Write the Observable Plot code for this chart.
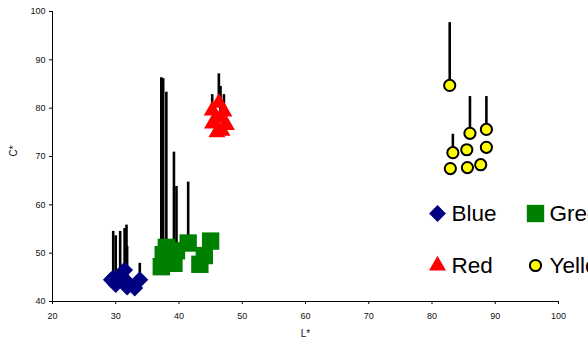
<!DOCTYPE html>
<html><head><meta charset="utf-8">
<script src="https://cdn.jsdelivr.net/npm/d3@7"></script>
<script src="https://cdn.jsdelivr.net/npm/@observablehq/plot@0.6"></script>
<style>html,body{margin:0;padding:0;background:#fff;overflow:hidden}</style>
</head><body><div id="chart"></div>
<script>
// ---- data ----
const seriesNames = ["Blue", "Green", "Red", "Yellow"];
const xTicks = [20, 30, 40, 50, 60, 70, 80, 90, 100];
const yTicks = [40, 50, 60, 70, 80, 90, 100];
const xTitle = "L*";
const yTitle = "C*";

const blueL   = [29.6, 30.0, 30.7, 31.4, 31.7, 31.8, 33.8, 33.0, 29.3];
const blueC   = [44.8, 43.5, 45.5, 46.5, 44.2, 43.0, 44.5, 42.8, 44.5];
const blueTop = [54.5, 53.6, 54.5, 55.1, 55.8, 51.4, 47.9, null, null];

const greenL   = [37.2, 37.5, 38.0, 39.2, 39.6, 41.45, 43.3, 44.0, 45.0];
const greenC   = [47.2, 49.7, 51.2, 47.9, 50.5, 52.1, 47.7, 49.5, 52.5];
const greenTop = [86.3, 86.1, 83.3, 70.9, 63.8, 64.7, null, null, null];

const redL   = [46.3, 45.25, 47.1, 46.56, 45.6, 47.5, 45.3, 46.0, 46.8];
const redC   = [81.1, 79.5, 79.3, 78.0, 77.0, 76.5, 76.8, 75.0, 75.3];
const redTop = [87.1, 82.8, 82.8, 84.5, null, null, null, null, null];

const yellowL   = [82.8, 86.0, 88.6, 83.3, 85.5, 88.6, 82.9, 85.6, 87.7];
const yellowC   = [84.7, 74.8, 75.6, 70.8, 71.4, 71.9, 67.5, 67.7, 68.3];
const yellowTop = [97.7, 82.4, 82.4, 74.6, null, null, null, null, null];

// ---- build rows ----
const build = (name, L, C, T) => L.map((l, i) => ({series: name, L: l, C: C[i], top: T[i]}));
const rows = {
  Blue: build("Blue", blueL, blueC, blueTop),
  Green: build("Green", greenL, greenC, greenTop),
  Red: build("Red", redL, redC, redTop),
  Yellow: build("Yellow", yellowL, yellowC, yellowTop)
};
const all = [].concat(...seriesNames.map(s => rows[s]));
const withTop = all.filter(d => d.top != null);

const style = {
  Blue:   {symbol: "diamond2", r: 7.6, fill: "#000080", stroke: "none"},
  Green:  {symbol: "square", r: 9.8, fill: "#008000", stroke: "none"},
  Red:    {symbol: "triangle", r: 6.3, fill: "#ff0000", stroke: "none"},
  Yellow: {symbol: "circle", r: 5.6, fill: "#ffff00", stroke: "#000", strokeWidth: 2}
};

// legend layout (pixel offsets from top-left of frame)
const legCols = [385, 483];
const legRows = [202, 254];
const legendMarks = [];
seriesNames.forEach((s, i) => {
  const dx = legCols[i % 2], dy = legRows[Math.floor(i / 2)];
  legendMarks.push(Plot.dot([s], {frameAnchor: "top-left", dx, dy, ...style[s]}));
  legendMarks.push(Plot.text([s], {frameAnchor: "top-left", dx: dx + 14, dy, text: d => d,
    textAnchor: "start", lineAnchor: "middle", fontSize: 22.5, fill: "#000"}));
});

const chart = Plot.plot({
  width: 588, height: 345,
  marginLeft: 52, marginRight: 30, marginTop: 11, marginBottom: 44,
  style: {fontFamily: "'Liberation Sans', Arial, sans-serif", background: "#fff", overflow: "hidden"},
  x: {domain: [20, 100], axis: null},
  y: {domain: [40, 100], axis: null},
  marks: [
    Plot.ruleX(withTop, {x: "L", y1: "C", y2: "top", stroke: "#000", strokeWidth: 2.6}),
    ...seriesNames.map(s => Plot.dot(rows[s], {x: "L", y: "C", ...style[s]})),
    Plot.ruleY([40], {stroke: "#000", strokeWidth: 1}),
    Plot.ruleX([20], {stroke: "#000", strokeWidth: 1}),
    Plot.axisX({ticks: xTicks, tickSize: 3, tickPadding: 8, fontSize: 9, label: null, stroke: "#000", color: "#111"}),
    Plot.axisY({ticks: yTicks, tickSize: 3, tickPadding: 4, fontSize: 9, label: null, stroke: "#000", color: "#111"}),
    Plot.text([xTitle], {frameAnchor: "bottom", dy: 35, text: d => d, fontSize: 10, fill: "#111"}),
    Plot.text([yTitle], {frameAnchor: "left", dx: -39, rotate: -90, text: d => d, fontSize: 10, fill: "#111"}),
    ...legendMarks
  ]
});
document.getElementById("chart").appendChild(chart);
</script>
</body></html>
